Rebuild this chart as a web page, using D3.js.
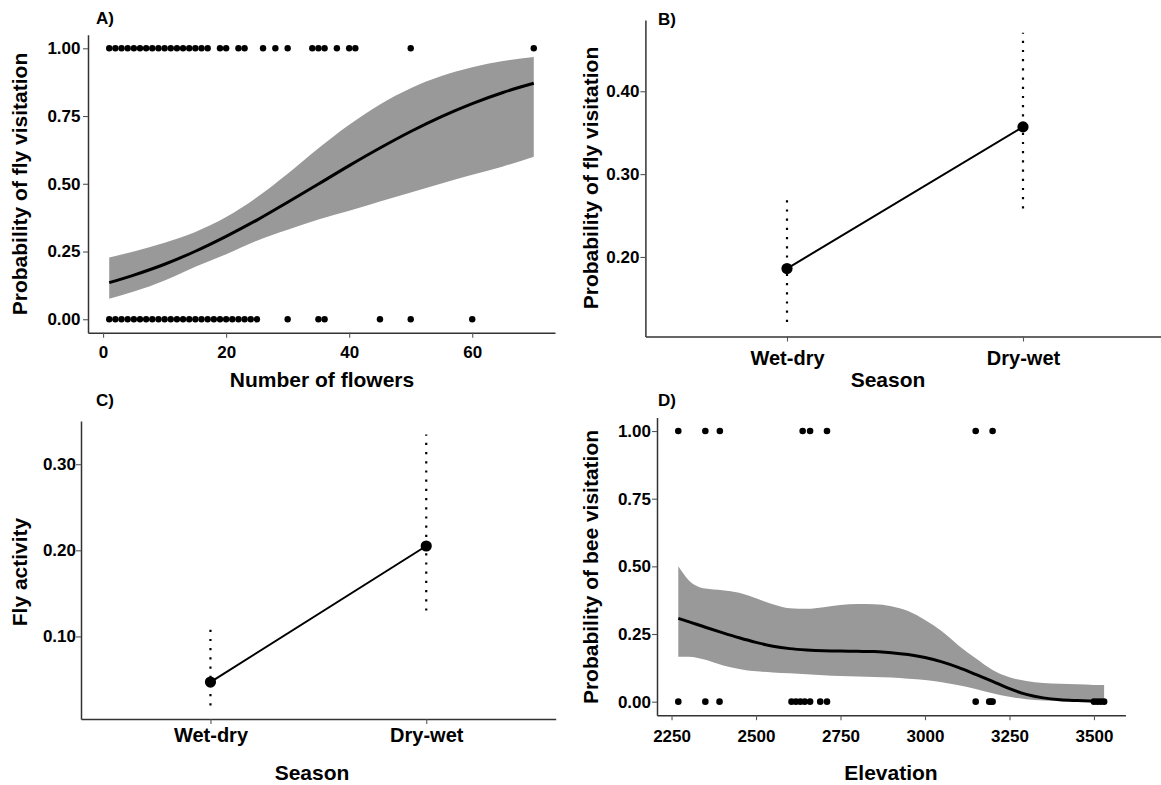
<!DOCTYPE html>
<html>
<head>
<meta charset="utf-8">
<script src="https://cdn.jsdelivr.net/npm/d3@7"></script>
<style>
  body { margin: 0; background: #fff; }
  svg text { font-family: "Liberation Sans", Arial, sans-serif; font-weight: bold; fill: #000; }
</style>
</head>
<body>
<svg id="chart" width="1161" height="785"></svg>
<script>
// ---------- A) fly visitation vs number of flowers ----------
const flowersVisited = [1,2,3,4,5,6,7,8,9,10,11,12,13,14,15,16,17,19,20,22,23,26,28,30,34,35,36,38,40,41,50,70];
const flowersNotVisited = [1,2,3,4,5,6,7,8,9,10,11,12,13,14,15,16,17,18,19,20,21,22,23,24,25,30,35,36,45,50,60];
const flowerGrid  = [1, 5, 10, 15, 20, 25, 30, 35, 40, 45, 50, 55, 60, 65, 70];
const flowerFit   = [0.135,0.163,0.203,0.251,0.306,0.366,0.432,0.499,0.567,0.632,0.693,0.748,0.796,0.837,0.871];
const flowerUpper = [0.228,0.250,0.282,0.322,0.377,0.450,0.537,0.631,0.718,0.793,0.853,0.898,0.930,0.953,0.968];
const flowerLower = [0.076,0.102,0.143,0.194,0.240,0.290,0.330,0.368,0.400,0.435,0.468,0.501,0.533,0.564,0.600];
const flowerTicks = [0, 20, 40, 60];
const probTicks = [0, 0.25, 0.5, 0.75, 1];

// ---------- B) / C) season effects ----------
const seasons = ["Wet-dry", "Dry-wet"];
const flyVisitProb = [0.186, 0.357];
const flyVisitLow  = [0.1215, 0.2585];
const flyVisitHigh = [0.272, 0.4705];
const flyVisitTicks = [0.2, 0.3, 0.4];

const flyActivity  = [0.047, 0.205];
const flyActLow    = [0.0198, 0.130];
const flyActHigh   = [0.1108, 0.3345];
const flyActTicks  = [0.1, 0.2, 0.3];

// ---------- D) bee visitation vs elevation ----------
const elevVisited = [2270, 2350, 2393, 2638, 2660, 2710, 3150, 3200];
const elevNotVisited = [2270, 2350, 2392, 2605, 2618, 2631, 2644, 2660, 2690, 2710, 3150, 3190, 3195, 3200, 3500, 3510, 3520, 3530];
const elevGrid  = [2270,2300,2350,2400,2450,2500,2550,2600,2650,2700,2750,2800,2850,2900,2950,3000,3050,3100,3150,3200,3250,3300,3350,3400,3450,3500,3530];
const beeFit    = [0.308,0.296,0.275,0.255,0.236,0.219,0.205,0.196,0.191,0.188,0.187,0.186,0.185,0.181,0.174,0.163,0.147,0.126,0.101,0.075,0.048,0.027,0.014,0.007,0.004,0.002,0.001];
const beeUpper  = [0.500,0.450,0.418,0.412,0.402,0.382,0.360,0.345,0.343,0.349,0.357,0.361,0.360,0.353,0.335,0.302,0.260,0.207,0.160,0.117,0.090,0.076,0.069,0.066,0.064,0.062,0.062];
const beeLower  = [0.166,0.166,0.155,0.135,0.121,0.112,0.108,0.105,0.101,0.098,0.095,0.093,0.091,0.089,0.085,0.080,0.072,0.061,0.047,0.031,0.018,0.009,0.004,0.002,0.001,0.0005,0.0003];
const elevTicks = [2250, 2500, 2750, 3000, 3250, 3500];

const svg = d3.select("#chart");
const AXIS_COL = "#333";
const BAND_COL = "#999999";

function expand(lo, hi, f = 0.05) {
  const s = hi - lo;
  return [lo - s * f, hi + s * f];
}

function drawAxes(o) {
  const gx = svg.append("g")
    .attr("transform", `translate(0,${o.y.range()[0]})`)
    .call(d3.axisBottom(o.x).tickValues(o.xTicks).tickFormat(o.xFmt)
      .tickSize(5).tickSizeOuter(0).tickPadding(o.xPad));
  const gy = svg.append("g")
    .attr("transform", `translate(${o.x.range()[0]},0)`)
    .call(d3.axisLeft(o.y).tickValues(o.yTicks).tickFormat(o.yFmt)
      .tickSize(5).tickSizeOuter(0).tickPadding(o.yPad));
  [gx, gy].forEach(g => {
    g.select(".domain").attr("stroke", AXIS_COL).attr("stroke-width", 1.5);
    g.selectAll(".tick line").attr("stroke", "#555").attr("stroke-width", 1.1);
  });
  gx.selectAll("text").style("font-size", o.xFont + "px");
  gy.selectAll("text").style("font-size", o.yFont + "px");
}

function title(text, x, y, size, rotate) {
  const t = svg.append("text")
    .attr("text-anchor", "middle")
    .attr("dy", "0.35em")
    .style("font-size", size + "px")
    .text(text);
  if (rotate) t.attr("transform", `translate(${x},${y}) rotate(-90)`);
  else t.attr("x", x).attr("y", y);
}

function tag(text, x, y) {
  svg.append("text").attr("x", x).attr("y", y).style("font-size", "17px").text(text);
}

// ---------- panel A ----------
{
  const x = d3.scaleLinear().domain(expand(1, 70)).range([88, 555]);
  const y = d3.scaleLinear().domain(expand(0, 1)).range([332.8, 34.75]);
  const band = flowerGrid.map((g, i) => ({ g, lo: flowerLower[i], hi: flowerUpper[i], fit: flowerFit[i] }));
  svg.append("path").datum(band).attr("fill", BAND_COL)
    .attr("d", d3.area().x(d => x(d.g)).y0(d => y(d.lo)).y1(d => y(d.hi)).curve(d3.curveMonotoneX));
  svg.append("path").datum(band).attr("fill", "none").attr("stroke", "#000").attr("stroke-width", 3)
    .attr("d", d3.line().x(d => x(d.g)).y(d => y(d.fit)).curve(d3.curveMonotoneX));
  svg.append("g").selectAll("circle").data(flowersVisited).join("circle")
    .attr("cx", d => x(d)).attr("cy", y(1)).attr("r", 3.2).attr("fill", "#000");
  svg.append("g").selectAll("circle").data(flowersNotVisited).join("circle")
    .attr("cx", d => x(d)).attr("cy", y(0)).attr("r", 3.2).attr("fill", "#000");
  drawAxes({ x, y, xTicks: flowerTicks, yTicks: probTicks, xFmt: d3.format("d"), yFmt: d3.format(".2f"),
    xPad: 8, yPad: 2.5, xFont: 17, yFont: 17 });
  title("Number of flowers", 322, 380, 21, false);
  title("Probability of fly visitation", 20, 184, 21, true);
  tag("A)", 96, 24);
}

// ---------- panel B ----------
{
  const x = d3.scalePoint().domain(seasons).range([645.4, 1164.6]).padding(0.6);
  const y = d3.scaleLinear().domain([0.104, 0.486]).range([336.5, 20]);
  const rows = seasons.map((s, i) => ({ s, v: flyVisitProb[i], lo: flyVisitLow[i], hi: flyVisitHigh[i] }));
  svg.append("g").selectAll("line").data(rows).join("line")
    .attr("x1", d => x(d.s)).attr("x2", d => x(d.s))
    .attr("y1", d => y(d.lo)).attr("y2", d => y(d.hi))
    .attr("stroke", "#000").attr("stroke-width", 2.2).attr("stroke-dasharray", "2.2 7");
  svg.append("path").datum(rows).attr("fill", "none").attr("stroke", "#000").attr("stroke-width", 2)
    .attr("d", d3.line().x(d => x(d.s)).y(d => y(d.v)));
  svg.append("g").selectAll("circle").data(rows).join("circle")
    .attr("cx", d => x(d.s)).attr("cy", d => y(d.v)).attr("r", 5.6).attr("fill", "#000");
  drawAxes({ x, y, xTicks: seasons, yTicks: flyVisitTicks, xFmt: d => d, yFmt: d3.format(".2f"),
    xPad: 9, yPad: 1, xFont: 20, yFont: 17 });
  title("Season", 888, 380, 21, false);
  title("Probability of fly visitation", 591, 178, 21, true);
  tag("B)", 658, 25);
}

// ---------- panel C ----------
{
  const x = d3.scalePoint().domain(seasons).range([81, 555.7]).padding(0.6);
  const y = d3.scaleLinear().domain([0.0041, 0.3502]).range([719, 421]);
  const rows = seasons.map((s, i) => ({ s, v: flyActivity[i], lo: flyActLow[i], hi: flyActHigh[i] }));
  svg.append("g").selectAll("line").data(rows).join("line")
    .attr("x1", d => x(d.s)).attr("x2", d => x(d.s))
    .attr("y1", d => y(d.lo)).attr("y2", d => y(d.hi))
    .attr("stroke", "#000").attr("stroke-width", 2.2).attr("stroke-dasharray", "2.2 7");
  svg.append("path").datum(rows).attr("fill", "none").attr("stroke", "#000").attr("stroke-width", 2)
    .attr("d", d3.line().x(d => x(d.s)).y(d => y(d.v)));
  svg.append("g").selectAll("circle").data(rows).join("circle")
    .attr("cx", d => x(d.s)).attr("cy", d => y(d.v)).attr("r", 5.6).attr("fill", "#000");
  drawAxes({ x, y, xTicks: seasons, yTicks: flyActTicks, xFmt: d => d, yFmt: d3.format(".2f"),
    xPad: 4, yPad: 0, xFont: 20, yFont: 17 });
  title("Season", 312, 773, 21, false);
  title("Fly activity", 20, 572, 21, true);
  tag("C)", 96, 406);
}

// ---------- panel D ----------
{
  const x = d3.scaleLinear().domain(expand(2270, 3530)).range([657, 1125.4]);
  const y = d3.scaleLinear().domain(expand(0, 1)).range([715.2, 417.5]);
  const band = elevGrid.map((g, i) => ({ g, lo: beeLower[i], hi: beeUpper[i], fit: beeFit[i] }));
  svg.append("path").datum(band).attr("fill", BAND_COL)
    .attr("d", d3.area().x(d => x(d.g)).y0(d => y(d.lo)).y1(d => y(d.hi)).curve(d3.curveMonotoneX));
  svg.append("path").datum(band).attr("fill", "none").attr("stroke", "#000").attr("stroke-width", 3)
    .attr("d", d3.line().x(d => x(d.g)).y(d => y(d.fit)).curve(d3.curveMonotoneX));
  svg.append("g").selectAll("circle").data(elevVisited).join("circle")
    .attr("cx", d => x(d)).attr("cy", y(1)).attr("r", 3.3).attr("fill", "#000");
  svg.append("g").selectAll("circle").data(elevNotVisited).join("circle")
    .attr("cx", d => x(d)).attr("cy", y(0)).attr("r", 3.3).attr("fill", "#000");
  drawAxes({ x, y, xTicks: elevTicks, yTicks: probTicks, xFmt: d3.format("d"), yFmt: d3.format(".2f"),
    xPad: 10, yPad: 1, xFont: 17, yFont: 17 });
  title("Elevation", 891, 773, 21, false);
  title("Probability of bee visitation", 591, 567, 21, true);
  tag("D)", 658, 406);
}
</script>
</body>
</html>
